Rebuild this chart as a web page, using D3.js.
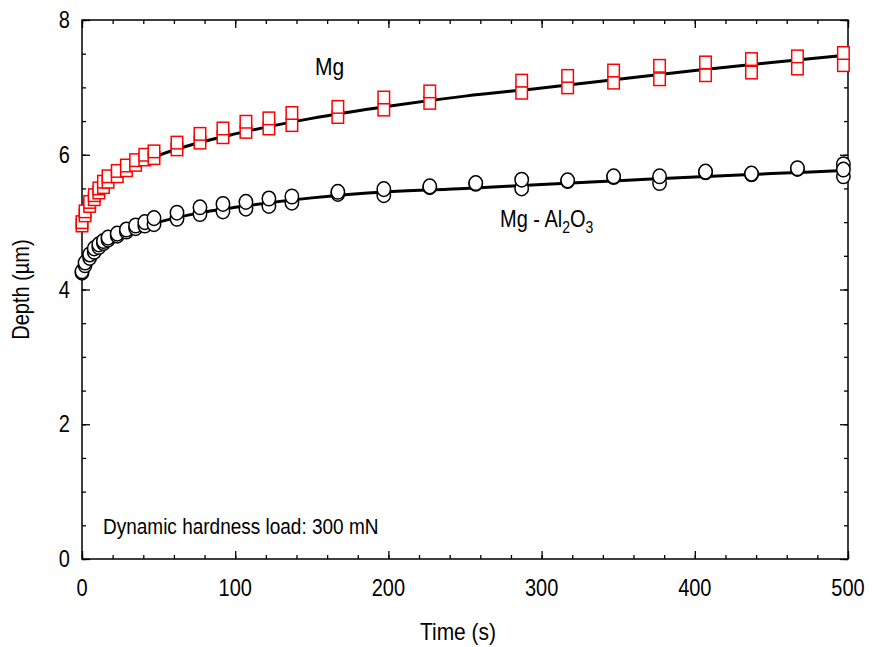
<!DOCTYPE html>
<html>
<head>
<meta charset="utf-8">
<script src="https://cdn.jsdelivr.net/npm/d3@7"></script>
<style>
  html, body { margin: 0; padding: 0; background: #ffffff; }
  svg { display: block; font-family: "Liberation Sans", Arial, sans-serif; }
</style>
</head>
<body>
<svg id="chart" width="872" height="647"></svg>
<script>
// ---- data ----
const xTicks = [0, 100, 200, 300, 400, 500];
const yTicks = [0, 2, 4, 6, 8];

// measurement times (s)
const times = [0, 2, 5, 8, 11, 14, 17, 23, 29, 35, 41, 47, 62, 77, 92, 107, 122, 137, 167, 197, 227, 287, 317, 347, 377, 407, 437, 467, 497];

// Mg (red squares), two indentation runs
const mgRunA = [5.00, 5.16, 5.30, 5.40, 5.50, 5.60, 5.68, 5.76, 5.84, 5.92, 6.00, 6.05, 6.18, 6.31, 6.39, 6.49, 6.54, 6.62, 6.71, 6.85, 6.94, 7.10, 7.17, 7.25, 7.32, 7.37, 7.42, 7.46, 7.51];
const mgRunB = [4.95, 5.10, 5.24, 5.34, 5.44, 5.52, 5.60, 5.68, 5.77, 5.85, 5.93, 5.95, 6.08, 6.18, 6.26, 6.34, 6.39, 6.44, 6.56, 6.67, 6.77, 6.92, 7.00, 7.07, 7.12, 7.18, 7.22, 7.28, 7.33];

// Mg - Al2O3 (black circles)
const compTimes = [0, 2, 5, 8, 11, 14, 17, 23, 29, 35, 41, 47, 62, 77, 92, 107, 122, 137, 167, 197, 227, 257, 287, 317, 347, 377, 407, 437, 467, 497];
const compRunA = [4.27, 4.40, 4.52, 4.61, 4.67, 4.72, 4.77, 4.83, 4.89, 4.95, 5.00, 5.06, 5.14, 5.22, 5.27, 5.30, 5.35, 5.38, 5.45, 5.49, 5.53, 5.58, 5.63, 5.62, 5.68, 5.68, 5.75, 5.72, 5.80, 5.86];
const compRunB = [4.25, 4.36, 4.47, 4.56, 4.63, 4.69, 4.74, 4.80, 4.86, 4.91, 4.95, 4.97, 5.05, 5.12, 5.16, 5.20, 5.24, 5.29, 5.42, 5.40, 5.52, 5.57, 5.50, 5.61, 5.67, 5.58, 5.74, 5.71, 5.79, 5.68];
const compExtraTimes = [497];
const compExtra = [5.78];

// fitted curves
const fitTimes = [0, 2, 5, 10, 20, 30, 50, 75, 100, 150, 200, 250, 300, 350, 400, 450, 500];
const mgFit   = [4.95, 5.15, 5.32, 5.48, 5.66, 5.79, 5.99, 6.17, 6.31, 6.54, 6.72, 6.87, 6.99, 7.12, 7.25, 7.37, 7.48];
const compFit = [4.25, 4.40, 4.50, 4.62, 4.76, 4.86, 5.00, 5.13, 5.22, 5.36, 5.45, 5.50, 5.56, 5.615, 5.67, 5.72, 5.77];

// ---- layout ----
const W = 872, H = 647;
const m = { left: 82, right: 24, top: 20, bottom: 88 };
const STRETCH = 1.18; // text in the reference is vertically elongated
const svg = d3.select("#chart");
const x = d3.scaleLinear().domain([0, 500]).range([m.left, W - m.right]);
const y = d3.scaleLinear().domain([0, 8]).range([H - m.bottom, m.top]);

const minorX = d3.range(0, 501, 20);
const minorY = d3.range(0, 8.01, 0.5);

function axisStyle(g) {
  g.select(".domain").remove();
  g.selectAll("line").attr("stroke", "#000").attr("stroke-width", 1.3);
}
function label(px, py, size, anchor, rotate) {
  const g = svg.append("g")
    .attr("transform", `translate(${px},${py})${rotate ? " rotate(" + rotate + ")" : ""} scale(1,${STRETCH})`);
  return g.append("text").attr("font-size", size).attr("text-anchor", anchor || "start").attr("fill", "#000");
}

// bottom
svg.append("g").attr("transform", `translate(0,${y(0)})`)
  .call(d3.axisBottom(x).tickValues(minorX).tickSize(-4).tickFormat(""))
  .call(axisStyle);
svg.append("g").attr("transform", `translate(0,${y(0)})`)
  .call(d3.axisBottom(x).tickValues(xTicks).tickSize(-8).tickFormat(""))
  .call(axisStyle);
// top
svg.append("g").attr("transform", `translate(0,${y(8)})`)
  .call(d3.axisTop(x).tickValues(minorX).tickSize(-4).tickFormat(""))
  .call(axisStyle);
svg.append("g").attr("transform", `translate(0,${y(8)})`)
  .call(d3.axisTop(x).tickValues(xTicks).tickSize(-8).tickFormat(""))
  .call(axisStyle);
// left
svg.append("g").attr("transform", `translate(${x(0)},0)`)
  .call(d3.axisLeft(y).tickValues(minorY).tickSize(-4).tickFormat(""))
  .call(axisStyle);
svg.append("g").attr("transform", `translate(${x(0)},0)`)
  .call(d3.axisLeft(y).tickValues(yTicks).tickSize(-8).tickFormat(""))
  .call(axisStyle);
// right
svg.append("g").attr("transform", `translate(${x(500)},0)`)
  .call(d3.axisRight(y).tickValues(minorY).tickSize(-4).tickFormat(""))
  .call(axisStyle);
svg.append("g").attr("transform", `translate(${x(500)},0)`)
  .call(d3.axisRight(y).tickValues(yTicks).tickSize(-8).tickFormat(""))
  .call(axisStyle);

// tick labels
xTicks.forEach(v => label(x(v), y(0) + 37, 20, "middle").text(v));
yTicks.forEach(v => label(x(0) - 12, y(v) + 8, 20, "end").text(v));

// frame
svg.append("rect")
  .attr("x", x(0)).attr("y", y(8))
  .attr("width", x(500) - x(0)).attr("height", y(0) - y(8))
  .attr("fill", "none").attr("stroke", "#000").attr("stroke-width", 1.5);

// fit lines
const line = d3.line().x(d => x(d[0])).y(d => y(d[1])).curve(d3.curveMonotoneX);
svg.append("path").datum(fitTimes.map((t, i) => [t, mgFit[i]]))
  .attr("d", line).attr("fill", "none").attr("stroke", "#000").attr("stroke-width", 3);
svg.append("path").datum(fitTimes.map((t, i) => [t, compFit[i]]))
  .attr("d", line).attr("fill", "none").attr("stroke", "#000").attr("stroke-width", 3);

// circles (Mg - Al2O3)
const circ = [];
compTimes.forEach((t, i) => { circ.push([t, compRunB[i]]); circ.push([t, compRunA[i]]); });
compExtraTimes.forEach((t, i) => circ.push([t, compExtra[i]]));
svg.append("g").selectAll("ellipse").data(circ).join("ellipse")
  .attr("cx", d => x(d[0])).attr("cy", d => y(d[1])).attr("rx", 6.7).attr("ry", 7.3)
  .attr("fill", "#fff").attr("stroke", "#000").attr("stroke-width", 1.5);

// squares (Mg)
const sq = [];
times.forEach((t, i) => { sq.push([t, mgRunB[i]]); sq.push([t, mgRunA[i]]); });
const sw = 11.5, sh = 12.5;
svg.append("g").selectAll("rect").data(sq).join("rect")
  .attr("x", d => x(d[0]) - sw / 2).attr("y", d => y(d[1]) - sh / 2)
  .attr("width", sw).attr("height", sh)
  .attr("fill", "#fff").attr("stroke", "#ff0000").attr("stroke-width", 1.5);

// axis titles
label(458, 640, 21, "middle").text("Time (s)");
label(29, (y(0) + y(8)) / 2, 20, "middle", -90).text("Depth (µm)");

// annotations
label(315, 75, 21).text("Mg");
const t2 = label(500, 227, 20);
t2.append("tspan").text("Mg - Al");
t2.append("tspan").attr("font-size", 14).attr("dy", 5).text("2");
t2.append("tspan").attr("dy", -5).text("O");
t2.append("tspan").attr("font-size", 14).attr("dy", 5).text("3");
label(103, 534, 19).text("Dynamic hardness load: 300 mN");
</script>
</body>
</html>
